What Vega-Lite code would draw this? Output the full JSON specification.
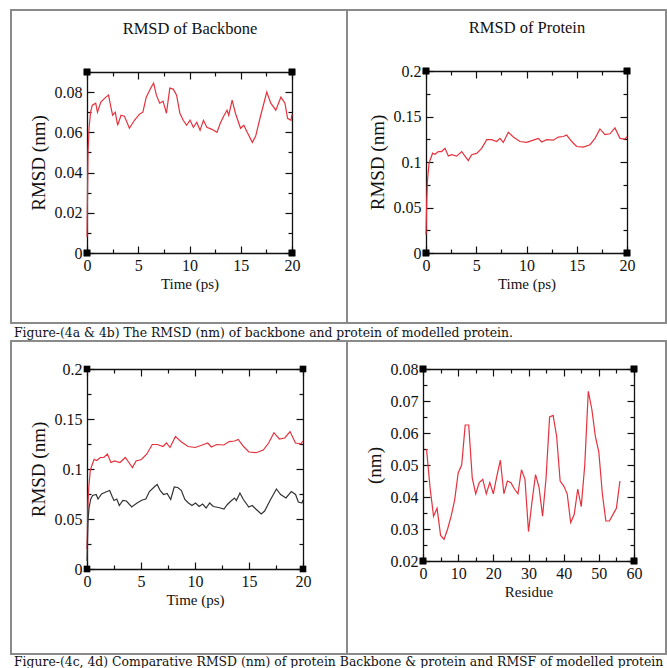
{
  "$schema": "https://vega.github.io/schema/vega-lite/v6.json",
  "padding": {"left": 10, "top": 9, "right": 0, "bottom": 0},
  "background": "white",
  "datasets": {
    "backbone": [
      {"t":0,"v":0.008},{"t":0.05,"v":0.03},{"t":0.1,"v":0.05},{"t":0.2,"v":0.062},{"t":0.35,"v":0.07},{"t":0.52,"v":0.0735},{"t":0.85,"v":0.0745},{"t":1.02,"v":0.07},{"t":1.35,"v":0.075},{"t":1.84,"v":0.0775},{"t":2.1,"v":0.0785},{"t":2.33,"v":0.0725},{"t":2.5,"v":0.0685},{"t":2.76,"v":0.07},{"t":2.99,"v":0.0635},{"t":3.32,"v":0.0685},{"t":3.65,"v":0.068},{"t":4.14,"v":0.062},{"t":4.63,"v":0.066},{"t":5.12,"v":0.069},{"t":5.45,"v":0.07},{"t":5.78,"v":0.0775},{"t":6.27,"v":0.0825},{"t":6.5,"v":0.0845},{"t":6.77,"v":0.0785},{"t":7.09,"v":0.0745},{"t":7.42,"v":0.0755},{"t":7.75,"v":0.0695},{"t":8.08,"v":0.082},{"t":8.41,"v":0.0815},{"t":8.74,"v":0.0785},{"t":9.06,"v":0.0695},{"t":9.39,"v":0.066},{"t":9.72,"v":0.0635},{"t":10.05,"v":0.066},{"t":10.38,"v":0.0625},{"t":10.71,"v":0.065},{"t":11.03,"v":0.061},{"t":11.36,"v":0.066},{"t":11.69,"v":0.0625},{"t":12.19,"v":0.0615},{"t":12.68,"v":0.06},{"t":13.0,"v":0.0645},{"t":13.33,"v":0.068},{"t":13.66,"v":0.071},{"t":13.83,"v":0.0685},{"t":14.16,"v":0.076},{"t":14.48,"v":0.0695},{"t":14.98,"v":0.062},{"t":15.3,"v":0.0635},{"t":15.63,"v":0.06},{"t":16.13,"v":0.055},{"t":16.45,"v":0.058},{"t":16.95,"v":0.0685},{"t":17.54,"v":0.08},{"t":17.93,"v":0.0745},{"t":18.42,"v":0.071},{"t":18.92,"v":0.0775},{"t":19.31,"v":0.0745},{"t":19.57,"v":0.067},{"t":19.9,"v":0.066},{"t":20,"v":0.069}
    ],
    "protein": [
      {"t":0,"v":0.02},{"t":0.08,"v":0.06},{"t":0.15,"v":0.08},{"t":0.3,"v":0.098},{"t":0.4,"v":0.102},{"t":0.66,"v":0.1097},{"t":0.9,"v":0.1085},{"t":1.23,"v":0.1115},{"t":1.56,"v":0.1115},{"t":1.89,"v":0.115},{"t":2.22,"v":0.1065},{"t":2.55,"v":0.108},{"t":3.05,"v":0.1065},{"t":3.55,"v":0.1115},{"t":3.88,"v":0.1065},{"t":4.21,"v":0.1015},{"t":4.54,"v":0.108},{"t":5.04,"v":0.1095},{"t":5.54,"v":0.115},{"t":6.04,"v":0.1245},{"t":6.53,"v":0.1245},{"t":7.03,"v":0.1225},{"t":7.36,"v":0.126},{"t":7.69,"v":0.1215},{"t":8.19,"v":0.1326},{"t":8.69,"v":0.1275},{"t":9.35,"v":0.1225},{"t":10.02,"v":0.1215},{"t":10.68,"v":0.124},{"t":11.18,"v":0.126},{"t":11.51,"v":0.122},{"t":12.01,"v":0.1245},{"t":12.67,"v":0.124},{"t":13.16,"v":0.1274},{"t":13.66,"v":0.128},{"t":14.0,"v":0.1296},{"t":14.5,"v":0.1225},{"t":14.99,"v":0.117},{"t":15.65,"v":0.1163},{"t":16.32,"v":0.119},{"t":16.82,"v":0.126},{"t":17.31,"v":0.1363},{"t":17.81,"v":0.13},{"t":18.31,"v":0.131},{"t":18.8,"v":0.1374},{"t":19.3,"v":0.126},{"t":19.8,"v":0.1252},{"t":20,"v":0.128}
    ],
    "rmsf": [
      {"residue":1,"rmsf":0.055},{"residue":2,"rmsf":0.043},{"residue":3,"rmsf":0.034},{"residue":4,"rmsf":0.0365},{"residue":5,"rmsf":0.028},{"residue":6,"rmsf":0.0268},{"residue":7,"rmsf":0.03},{"residue":8,"rmsf":0.034},{"residue":9,"rmsf":0.039},{"residue":10,"rmsf":0.0475},{"residue":11,"rmsf":0.05},{"residue":12,"rmsf":0.0625},{"residue":13,"rmsf":0.0625},{"residue":14,"rmsf":0.046},{"residue":15,"rmsf":0.041},{"residue":16,"rmsf":0.0445},{"residue":17,"rmsf":0.0455},{"residue":18,"rmsf":0.041},{"residue":19,"rmsf":0.0445},{"residue":20,"rmsf":0.041},{"residue":21,"rmsf":0.0465},{"residue":22,"rmsf":0.0515},{"residue":23,"rmsf":0.041},{"residue":24,"rmsf":0.045},{"residue":25,"rmsf":0.0445},{"residue":26,"rmsf":0.0425},{"residue":27,"rmsf":0.041},{"residue":28,"rmsf":0.0485},{"residue":29,"rmsf":0.0455},{"residue":30,"rmsf":0.0292},{"residue":31,"rmsf":0.0385},{"residue":32,"rmsf":0.047},{"residue":33,"rmsf":0.043},{"residue":34,"rmsf":0.034},{"residue":35,"rmsf":0.046},{"residue":36,"rmsf":0.065},{"residue":37,"rmsf":0.0655},{"residue":38,"rmsf":0.059},{"residue":39,"rmsf":0.045},{"residue":40,"rmsf":0.0435},{"residue":41,"rmsf":0.041},{"residue":42,"rmsf":0.032},{"residue":43,"rmsf":0.0345},{"residue":44,"rmsf":0.0425},{"residue":45,"rmsf":0.037},{"residue":46,"rmsf":0.05},{"residue":47,"rmsf":0.073},{"residue":48,"rmsf":0.0675},{"residue":49,"rmsf":0.059},{"residue":50,"rmsf":0.054},{"residue":51,"rmsf":0.041},{"residue":52,"rmsf":0.0325},{"residue":53,"rmsf":0.0325},{"residue":54,"rmsf":0.0345},{"residue":55,"rmsf":0.0365},{"residue":56,"rmsf":0.045}
    ],
    "c1": [{"t":0,"v":0},{"t":0,"v":0.09},{"t":20,"v":0},{"t":20,"v":0.09}],
    "c2": [{"t":0,"v":0},{"t":0,"v":0.2},{"t":20,"v":0},{"t":20,"v":0.2}],
    "c4": [{"residue":0,"rmsf":0.02},{"residue":0,"rmsf":0.08},{"residue":60,"rmsf":0.02},{"residue":60,"rmsf":0.08}]
  },
  "config": {
    "view": {"stroke": "#8a8a8a", "strokeWidth": 2},
    "font": "Liberation Serif",
    "axis": {
      "grid": false,
      "domainColor": "#111111",
      "domainWidth": 1.3,
      "tickColor": "#111111",
      "tickWidth": 1.2,
      "labelFont": "Liberation Serif",
      "labelFontSize": 16,
      "labelColor": "#111111",
      "labelPadding": 4,
      "labelFlush": false,
      "labelOverlap": false,
      "labelBound": false,
      "titleFont": "Liberation Serif",
      "titleFontSize": 15,
      "titleFontWeight": "normal",
      "titleColor": "#111111"
    }
  },
  "spacing": -2,
  "vconcat": [
    {
      "spacing": 0,
      "bounds": "flush",
      "hconcat": [
        {
          "width": 336, "height": 313,
          "resolve": {"axis": {"x": "independent", "y": "independent"}},
          "layer": [
            {
              "data": {"name": "backbone"},
              "mark": {"type": "line", "color": "#e5323e", "strokeWidth": 1.2},
              "encoding": {
                "x": {"field": "t", "type": "quantitative", "scale": {"domain": [0, 20], "range": [76, 281], "nice": false, "zero": false},
                  "axis": {"orient": "bottom", "offset": -70, "values": [0,5,10,15,20], "ticks": false, "domain": true, "title": "Time (ps)", "labelPadding": 4, "titlePadding": 3}},
                "y": {"field": "v", "type": "quantitative", "scale": {"domain": [0, 0.09], "range": [243, 62], "nice": false, "zero": false},
                  "axis": {"orient": "left", "offset": -76, "values": [0,0.02,0.04,0.06,0.08], "format": "~g", "ticks": false, "domain": true, "title": "RMSD (nm)", "labelPadding": 5, "titlePadding": 6, "titleFontSize": 19}}
              }
            },
            {
              "data": {"name": "c1"},
              "mark": {"type": "square", "color": "#000000", "size": 44, "opacity": 1},
              "encoding": {
                "x": {"field": "t", "type": "quantitative", "scale": {"domain": [0, 20], "range": [76, 281], "nice": false, "zero": false},
                  "axis": {"orient": "top", "offset": -243, "values": [0,2.5,5,7.5,10,12.5,15,17.5,20], "labels": false, "domain": false, "title": null,
                    "tickSize": {"condition": {"test": "datum.value % 5 === 0", "value": 7}, "value": 4}}},
                "y": {"field": "v", "type": "quantitative", "scale": {"domain": [0, 0.09], "range": [243, 62], "nice": false, "zero": false},
                  "axis": {"orient": "right", "offset": -260, "values": [0,0.01,0.02,0.03,0.04,0.05,0.06,0.07,0.08,0.09], "labels": false, "domain": false, "title": null,
                    "tickSize": {"condition": {"test": "round(datum.value*100) % 2 === 0", "value": 7}, "value": 4}}}
              }
            },
            {
              "data": {"name": "c1"},
              "mark": {"type": "square", "color": "#000000", "size": 44, "opacity": 1},
              "encoding": {
                "x": {"field": "t", "type": "quantitative", "scale": {"domain": [0, 20], "range": [76, 281], "nice": false, "zero": false},
                  "axis": {"orient": "bottom", "offset": -251, "values": [0,2.5,5,7.5,10,12.5,15,17.5,20], "labels": false, "domain": true, "title": "RMSD of Backbone", "titleY": -44, "titleBaseline": "middle", "titleFontSize": 16.5,
                    "tickSize": {"condition": {"test": "datum.value % 5 === 0", "value": 7}, "value": 4}}},
                "y": {"field": "v", "type": "quantitative", "scale": {"domain": [0, 0.09], "range": [243, 62], "nice": false, "zero": false},
                  "axis": {"orient": "left", "offset": -281, "values": [0,0.01,0.02,0.03,0.04,0.05,0.06,0.07,0.08,0.09], "labels": false, "domain": true, "title": null,
                    "tickSize": {"condition": {"test": "round(datum.value*100) % 2 === 0", "value": 7}, "value": 4}}}
              }
            }
          ]
        },
        {
          "width": 319, "height": 313,
          "resolve": {"axis": {"x": "independent", "y": "independent"}},
          "layer": [
            {
              "data": {"name": "protein"},
              "mark": {"type": "line", "color": "#e5323e", "strokeWidth": 1.2},
              "encoding": {
                "x": {"field": "t", "type": "quantitative", "scale": {"domain": [0, 20], "range": [79, 280], "nice": false, "zero": false},
                  "axis": {"orient": "bottom", "offset": -70, "values": [0,5,10,15,20], "ticks": false, "domain": true, "title": "Time (ps)", "labelPadding": 4, "titlePadding": 3}},
                "y": {"field": "v", "type": "quantitative", "scale": {"domain": [0, 0.2], "range": [243, 61], "nice": false, "zero": false},
                  "axis": {"orient": "left", "offset": -79, "values": [0,0.05,0.1,0.15,0.2], "format": "~g", "ticks": false, "domain": true, "title": "RMSD (nm)", "labelPadding": 5, "titlePadding": 6, "titleFontSize": 19}}
              }
            },
            {
              "data": {"name": "c2"},
              "mark": {"type": "square", "color": "#000000", "size": 44, "opacity": 1},
              "encoding": {
                "x": {"field": "t", "type": "quantitative", "scale": {"domain": [0, 20], "range": [79, 280], "nice": false, "zero": false},
                  "axis": {"orient": "top", "offset": -243, "values": [0,2.5,5,7.5,10,12.5,15,17.5,20], "labels": false, "domain": false, "title": null,
                    "tickSize": {"condition": {"test": "datum.value % 5 === 0", "value": 7}, "value": 4}}},
                "y": {"field": "v", "type": "quantitative", "scale": {"domain": [0, 0.2], "range": [243, 61], "nice": false, "zero": false},
                  "axis": {"orient": "right", "offset": -240, "values": [0,0.025,0.05,0.075,0.1,0.125,0.15,0.175,0.2], "labels": false, "domain": false, "title": null,
                    "tickSize": {"condition": {"test": "round(datum.value*1000) % 50 === 0", "value": 7}, "value": 4}}}
              }
            },
            {
              "data": {"name": "c2"},
              "mark": {"type": "square", "color": "#000000", "size": 44, "opacity": 1},
              "encoding": {
                "x": {"field": "t", "type": "quantitative", "scale": {"domain": [0, 20], "range": [79, 280], "nice": false, "zero": false},
                  "axis": {"orient": "bottom", "offset": -252, "values": [0,2.5,5,7.5,10,12.5,15,17.5,20], "labels": false, "domain": true, "title": "RMSD of Protein", "titleY": -44, "titleBaseline": "middle", "titleFontSize": 16.5,
                    "tickSize": {"condition": {"test": "datum.value % 5 === 0", "value": 7}, "value": 4}}},
                "y": {"field": "v", "type": "quantitative", "scale": {"domain": [0, 0.2], "range": [243, 61], "nice": false, "zero": false},
                  "axis": {"orient": "left", "offset": -280, "values": [0,0.025,0.05,0.075,0.1,0.125,0.15,0.175,0.2], "labels": false, "domain": true, "title": null,
                    "tickSize": {"condition": {"test": "round(datum.value*1000) % 50 === 0", "value": 7}, "value": 4}}}
              }
            }
          ]
        }
      ]
    },
    {
      "width": 655, "height": 17,
      "data": {"values": []},
      "mark": "point",
      "encoding": {},
      "title": {"text": "Figure-(4a & 4b) The RMSD (nm) of backbone and protein of modelled protein.", "orient": "top", "anchor": "start", "frame": "group", "offset": -15, "dx": 3, "font": "DejaVu Serif", "fontSize": 12.4, "fontWeight": "normal", "color": "#111111"}
    },
    {
      "spacing": 0,
      "bounds": "flush",
      "hconcat": [
        {
          "width": 336, "height": 313,
          "resolve": {"axis": {"x": "independent", "y": "independent"}},
          "layer": [
            {
              "data": {"name": "protein"},
              "mark": {"type": "line", "color": "#e5323e", "strokeWidth": 1.2},
              "encoding": {
                "x": {"field": "t", "type": "quantitative", "scale": {"domain": [0, 20], "range": [76, 292], "nice": false, "zero": false},
                  "axis": {"orient": "bottom", "offset": -85, "values": [0,5,10,15,20], "ticks": false, "domain": true, "title": "Time (ps)", "labelPadding": 4, "titlePadding": 3}},
                "y": {"field": "v", "type": "quantitative", "scale": {"domain": [0, 0.2], "range": [228, 28], "nice": false, "zero": false},
                  "axis": {"orient": "left", "offset": -76, "values": [0,0.05,0.1,0.15,0.2], "format": "~g", "ticks": false, "domain": true, "title": "RMSD (nm)", "labelPadding": 5, "titlePadding": 6, "titleFontSize": 19}}
              }
            },
            {
              "data": {"name": "backbone"},
              "mark": {"type": "line", "color": "#333333", "strokeWidth": 1.2},
              "encoding": {
                "x": {"field": "t", "type": "quantitative", "scale": {"domain": [0, 20], "range": [76, 292], "nice": false, "zero": false},
                  "axis": {"orient": "top", "offset": -228, "values": [0,2.5,5,7.5,10,12.5,15,17.5,20], "labels": false, "domain": false, "title": null,
                    "tickSize": {"condition": {"test": "datum.value % 5 === 0", "value": 7}, "value": 4}}},
                "y": {"field": "v", "type": "quantitative", "scale": {"domain": [0, 0.2], "range": [228, 28], "nice": false, "zero": false},
                  "axis": {"orient": "right", "offset": -260, "values": [0,0.025,0.05,0.075,0.1,0.125,0.15,0.175,0.2], "labels": false, "domain": false, "title": null,
                    "tickSize": {"condition": {"test": "round(datum.value*1000) % 50 === 0", "value": 7}, "value": 4}}}
              }
            },
            {
              "data": {"name": "c2"},
              "mark": {"type": "square", "color": "#000000", "size": 44, "opacity": 1},
              "encoding": {
                "x": {"field": "t", "type": "quantitative", "scale": {"domain": [0, 20], "range": [76, 292], "nice": false, "zero": false},
                  "axis": {"orient": "bottom", "offset": -285, "values": [0,2.5,5,7.5,10,12.5,15,17.5,20], "labels": false, "domain": true, "title": null,
                    "tickSize": {"condition": {"test": "datum.value % 5 === 0", "value": 7}, "value": 4}}},
                "y": {"field": "v", "type": "quantitative", "scale": {"domain": [0, 0.2], "range": [228, 28], "nice": false, "zero": false},
                  "axis": {"orient": "left", "offset": -292, "values": [0,0.025,0.05,0.075,0.1,0.125,0.15,0.175,0.2], "labels": false, "domain": true, "title": null,
                    "tickSize": {"condition": {"test": "round(datum.value*1000) % 50 === 0", "value": 7}, "value": 4}}}
              }
            }
          ]
        },
        {
          "width": 319, "height": 313,
          "resolve": {"axis": {"x": "independent", "y": "independent"}},
          "layer": [
            {
              "data": {"name": "rmsf"},
              "mark": {"type": "line", "color": "#e5323e", "strokeWidth": 1.2},
              "encoding": {
                "x": {"field": "residue", "type": "quantitative", "scale": {"domain": [0, 60], "range": [76, 287], "nice": false, "zero": false},
                  "axis": {"orient": "bottom", "offset": -93, "values": [0,10,20,30,40,50,60], "ticks": false, "domain": true, "title": "Residue", "labelPadding": 4, "titlePadding": 3}},
                "y": {"field": "rmsf", "type": "quantitative", "scale": {"domain": [0.02, 0.08], "range": [220, 28], "nice": false, "zero": false},
                  "axis": {"orient": "left", "offset": -76, "values": [0.02,0.03,0.04,0.05,0.06,0.07,0.08], "format": "~g", "ticks": false, "domain": true, "title": "(nm)", "labelPadding": 5, "titlePadding": 6, "titleFontSize": 19}}
              }
            },
            {
              "data": {"name": "c4"},
              "mark": {"type": "square", "color": "#000000", "size": 44, "opacity": 1},
              "encoding": {
                "x": {"field": "residue", "type": "quantitative", "scale": {"domain": [0, 60], "range": [76, 287], "nice": false, "zero": false},
                  "axis": {"orient": "top", "offset": -220, "values": [0,5,10,15,20,25,30,35,40,45,50,55,60], "labels": false, "domain": false, "title": null,
                    "tickSize": {"condition": {"test": "datum.value % 10 === 0", "value": 7}, "value": 4}}},
                "y": {"field": "rmsf", "type": "quantitative", "scale": {"domain": [0.02, 0.08], "range": [220, 28], "nice": false, "zero": false},
                  "axis": {"orient": "right", "offset": -243, "values": [0.02,0.025,0.03,0.035,0.04,0.045,0.05,0.055,0.06,0.065,0.07,0.075,0.08], "labels": false, "domain": false, "title": null,
                    "tickSize": {"condition": {"test": "round(datum.value*1000) % 10 === 0", "value": 7}, "value": 4}}}
              }
            },
            {
              "data": {"name": "c4"},
              "mark": {"type": "square", "color": "#000000", "size": 44, "opacity": 1},
              "encoding": {
                "x": {"field": "residue", "type": "quantitative", "scale": {"domain": [0, 60], "range": [76, 287], "nice": false, "zero": false},
                  "axis": {"orient": "bottom", "offset": -285, "values": [0,5,10,15,20,25,30,35,40,45,50,55,60], "labels": false, "domain": true, "title": null,
                    "tickSize": {"condition": {"test": "datum.value % 10 === 0", "value": 7}, "value": 4}}},
                "y": {"field": "rmsf", "type": "quantitative", "scale": {"domain": [0.02, 0.08], "range": [220, 28], "nice": false, "zero": false},
                  "axis": {"orient": "left", "offset": -287, "values": [0.02,0.025,0.03,0.035,0.04,0.045,0.05,0.055,0.06,0.065,0.07,0.075,0.08], "labels": false, "domain": true, "title": null,
                    "tickSize": {"condition": {"test": "round(datum.value*1000) % 10 === 0", "value": 7}, "value": 4}}}
              }
            }
          ]
        }
      ]
    },
    {
      "width": 655, "height": 14,
      "data": {"values": []},
      "mark": "point",
      "encoding": {},
      "title": {"text": "Figure-(4c, 4d) Comparative RMSD (nm) of protein Backbone & protein and RMSF of modelled protein", "orient": "top", "anchor": "start", "frame": "group", "offset": -13, "dx": 3, "font": "DejaVu Serif", "fontSize": 12.4, "fontWeight": "normal", "color": "#111111"}
    }
  ]
}
